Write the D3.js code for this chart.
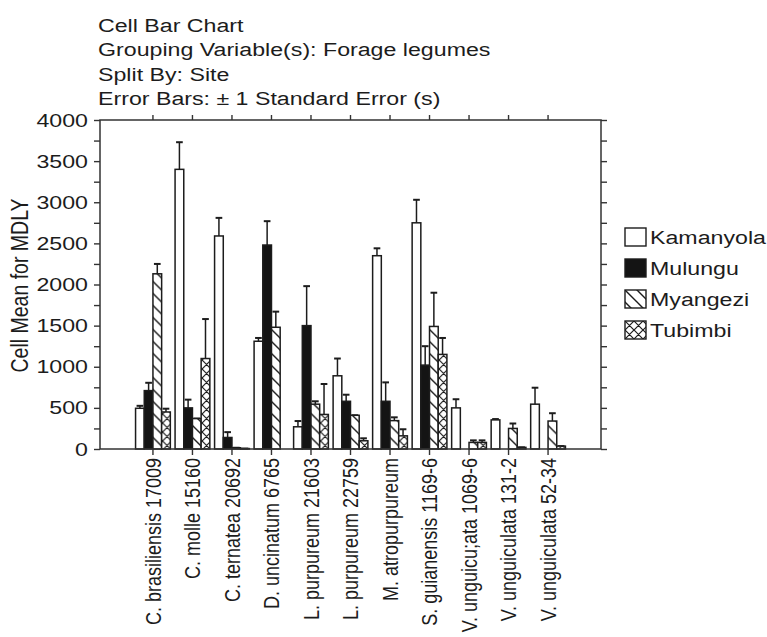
<!DOCTYPE html>
<html>
<head>
<meta charset="utf-8">
<script src="https://cdn.jsdelivr.net/npm/d3@7"></script>
<style>
  body { margin: 0; background: #fff; }
  svg text { font-family: "Liberation Sans", Arial, sans-serif; fill: #1c1c1c; }
</style>
</head>
<body>
<svg id="chart" width="767" height="637"></svg>
<script>
// categories on x axis
const categories = ["C. brasiliensis 17009", "C. molle 15160", "C. ternatea 20692", "D. uncinatum 6765",
  "L. purpureum 21603", "L. purpureum 22759", "M. atropurpureum", "S. guianensis 1169-6",
  "V. unguicu;ata 1069-6", "V. unguiculata 131-2", "V. unguiculata 52-34"];
const sites = ["Kamanyola", "Mulungu", "Myangezi", "Tubimbi"];

// cell means and standard errors, one array per site
const kamanyola    = [495, 3400, 2590, 1310, 270, 890, 2350, 2750, 500, 354, 545];
const kamanyolaErr = [30, 330, 220, 40, 70, 210, 90, 280, 105, 10, 200];
const mulungu      = [710, 500, 140, 2480, 1500, 580, 580, 1020, 0, 0, 0];
const mulunguErr   = [95, 100, 65, 290, 480, 80, 230, 230, 0, 0, 0];
const myangezi     = [2130, 370, 15, 1480, 545, 410, 345, 1490, 80, 250, 340];
const myangeziErr  = [120, 0, 0, 190, 35, 0, 40, 410, 25, 60, 95];
const tubimbi      = [450, 1100, 5, 0, 420, 100, 160, 1150, 80, 20, 35];
const tubimbiErr   = [40, 480, 0, 0, 370, 30, 80, 200, 25, 0, 0];

const yTicks = d3.range(0, 4001, 250);
const titleLines = ["Cell Bar Chart", "Grouping Variable(s): Forage legumes", "Split By: Site", "Error Bars: \u00b1 1 Standard Error (s)"];
const yLabel = "Cell Mean for MDLY";

const means = [kamanyola, mulungu, myangezi, tubimbi];
const errs = [kamanyolaErr, mulunguErr, myangeziErr, tubimbiErr];
const fills = ["#fff", "#141414", "url(#hatch)", "url(#cross)"];

const SX = 1.22;   // the source text is stretched sideways
const ink = "#1c1c1c";
const margin = ({top: 120, right: 166, bottom: 188, left: 100});
const W = 767, H = 637;

const svg = d3.select("#chart");

const x0 = d3.scaleBand().domain(categories).range([margin.left, W - margin.right])
  .paddingInner(0.12).paddingOuter(0.9);
const x1 = d3.scaleBand().domain(sites).range([0, x0.bandwidth()]);
const y = d3.scaleLinear().domain([0, 4000]).range([H - margin.bottom, margin.top]);

//  patterns
const defs = svg.append("defs");
const hatch = defs.append("pattern").attr("id", "hatch").attr("patternUnits", "userSpaceOnUse")
  .attr("width", 12).attr("height", 12);
hatch.append("rect").attr("width", 12).attr("height", 12).attr("fill", "#fff");
hatch.append("path").attr("d", "M-1,-1L13,13M-1,11L1,13M11,-1L13,1")
  .attr("stroke", ink).attr("stroke-width", 1.4);

const cross = defs.append("pattern").attr("id", "cross").attr("patternUnits", "userSpaceOnUse")
  .attr("width", 9).attr("height", 9);
cross.append("rect").attr("width", 9).attr("height", 9).attr("fill", "#fff");
cross.append("path").attr("d", "M-1,-1L10,10M-1,10L10,-1M-1,8L1,10M8,-1L10,1M-1,1L1,-1M8,10L10,8")
  .attr("stroke", ink).attr("stroke-width", 1.2);

//  title
svg.append("g").selectAll("text").data(titleLines).join("text")
  .attr("transform", (d, i) => `translate(98,${32 + i * 24.3}) scale(${SX},1)`)
  .style("font-size", "19px")
  .text(d => d);

//  bars
const groups = svg.append("g").selectAll("g").data(categories).join("g")
  .attr("transform", d => `translate(${x0(d)},0)`);

sites.forEach((s, si) => {
  groups.each(function(c, ci) {
    const v = means[si][ci];
    if (!(v > 0)) return;
    const g = d3.select(this);
    const bx = x1(s), bw = x1.bandwidth();
    const top = y(v + errs[si][ci]);
    // error bar
    g.append("line").attr("x1", bx + bw / 2).attr("x2", bx + bw / 2)
      .attr("y1", y(v)).attr("y2", top)
      .attr("stroke", ink).attr("stroke-width", 1.5);
    g.append("line").attr("x1", bx + 1).attr("x2", bx + bw - 1)
      .attr("y1", top).attr("y2", top)
      .attr("stroke", ink).attr("stroke-width", 2);
    g.append("rect")
      .attr("x", bx).attr("y", y(v))
      .attr("width", bw).attr("height", y(0) - y(v))
      .attr("fill", fills[si])
      .attr("stroke", ink).attr("stroke-width", 1.5);
  });
});

//  axes
const axisStyle = g => {
  g.attr("font-size", null).attr("font-family", null);
  g.select(".domain").remove();
  g.selectAll(".tick line").attr("stroke", "#333").attr("stroke-width", 1.4);
};

svg.append("g")
  .attr("transform", `translate(${margin.left},0)`)
  .call(d3.axisLeft(y).tickValues(yTicks).tickSize(6).tickPadding(6)
    .tickFormat(d => d % 500 === 0 ? d : ""))
  .call(axisStyle)
  .call(g => g.selectAll("text")
    .style("font-size", "19px")
    .attr("transform", `translate(-12,0) scale(${SX},1)`).attr("x", 0));

svg.append("g")
  .attr("transform", `translate(${W - margin.right},0)`)
  .call(d3.axisRight(y).tickValues(yTicks).tickSize(6).tickFormat(""))
  .call(axisStyle);

svg.append("g")
  .attr("transform", `translate(0,${margin.top})`)
  .call(d3.axisTop(x0).tickSize(5).tickFormat(""))
  .call(axisStyle);

svg.append("g")
  .attr("transform", `translate(0,${H - margin.bottom})`)
  .call(d3.axisBottom(x0).tickSize(6).tickPadding(4))
  .call(axisStyle)
  .call(g => g.selectAll("text")
    .style("font-size", "18px")
    .attr("text-anchor", "end")
    .attr("y", null).attr("dy", "0.36em")
    .attr("transform", `translate(0,9) scale(${SX},1) rotate(-90)`));

//  frame
svg.append("rect")
  .attr("x", margin.left).attr("y", margin.top)
  .attr("width", W - margin.right - margin.left)
  .attr("height", H - margin.bottom - margin.top)
  .attr("fill", "none").attr("stroke", "#333").attr("stroke-width", 1.5);

//  y label
svg.append("text")
  .attr("transform", `translate(28,${(margin.top + H - margin.bottom) / 2 + 1}) scale(${SX},1) rotate(-90)`)
  .attr("text-anchor", "middle")
  .style("font-size", "19.5px")
  .text(yLabel);

//  legend
const legend = svg.append("g").selectAll("g").data(sites).join("g")
  .attr("transform", (d, i) => `translate(625,${228 + i * 31})`);
legend.append("rect")
  .attr("width", 21).attr("height", 18)
  .attr("fill", (d, i) => fills[i])
  .attr("stroke", ink).attr("stroke-width", 1.4);
legend.append("text")
  .attr("transform", `translate(25,16) scale(${SX},1)`)
  .style("font-size", "19px")
  .text(d => d);
</script>
</body>
</html>
